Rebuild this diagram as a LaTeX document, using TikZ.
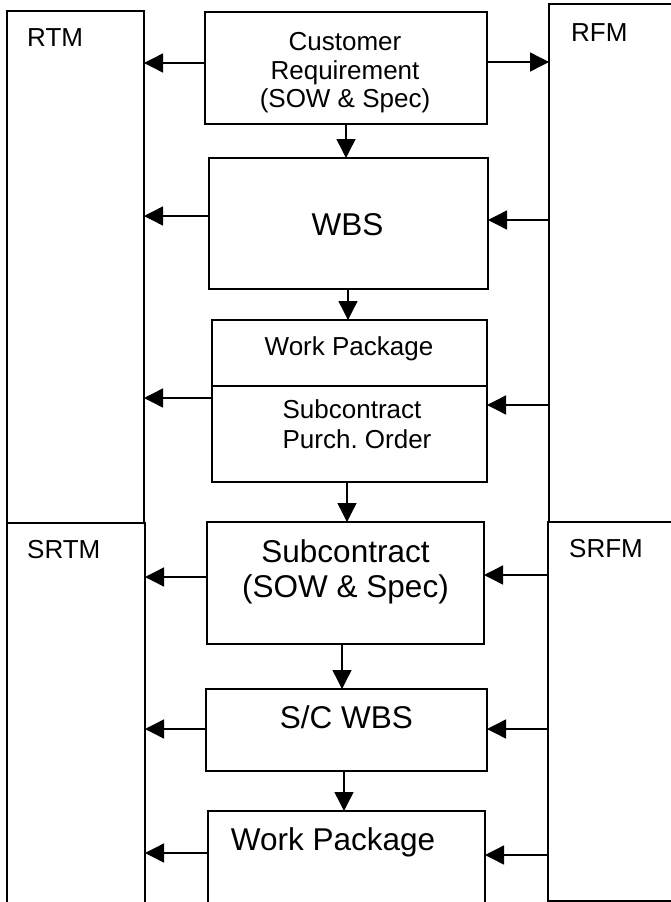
\documentclass[tikz,border=0pt]{standalone}
\usepackage{fontspec}
\setmainfont{Liberation Sans}
\usetikzlibrary{arrows.meta,fit}
\begin{document}
\begin{tikzpicture}[x=1pt,y=-1pt,
  box/.style={draw, line width=1.8pt, inner sep=0pt, outer sep=0pt},
  arr/.style={line width=1.4pt, -{Triangle[length=19pt,width=19pt]}},
  sm/.style={font=\fontsize{26}{30}\selectfont, inner sep=0pt},
  lg/.style={font=\fontsize{31.5}{36}\selectfont, inner sep=0pt}]
\useasboundingbox (0,0) rectangle (671,902);
\clip (0,0) rectangle (671,902);
% side matrices
\node[box, fit={(7,11) (144,523)}] (RTM) {};
\node[box, fit={(7,523) (145,920)}] (SRTM) {};
\node[box, fit={(549,4) (700,522)}] (RFM) {};
\node[box, fit={(548,522) (700,901)}] (SRFM) {};
% central flow
\node[box, fit={(205,12) (487,124)}] (CR) {};
\node[box, fit={(209,158) (488,289)}] (WBS) {};
\node[box, fit={(212,320) (487,482)}] (WP) {};
\draw[line width=1.8pt] (WP.west |- 0,386) -- (WP.east |- 0,386);
\node[box, fit={(207,522) (484,644)}] (SUB) {};
\node[box, fit={(206,689) (487,771)}] (SCWBS) {};
\node[box, fit={(208,811) (485,920)}] (WP2) {};
% labels
\node[sm, anchor=base west] (tRTM) at (27,46) {RTM};
\node[sm, anchor=base west] (tRFM) at (571,41) {RFM};
\node[sm, anchor=base west] (tSRTM) at (27,558) {SRTM};
\node[sm, anchor=base west] (tSRFM) at (569,557) {SRFM};
\node[sm, anchor=base] (tCR1) at (345,50) {Customer};
\node[sm, anchor=base] (tCR2) at (345,79) {Requirement};
\node[sm, anchor=base] (tCR3) at (345,107) {(SOW \& Spec)};
\node[lg, anchor=base] (tWBS) at (347.5,235) {WBS};
\node[sm, anchor=base] (tWP) at (349,355) {Work Package};
\node[sm, anchor=base] (tSC1) at (352,418) {Subcontract};
\node[sm, anchor=base] (tSC2) at (357,448) {Purch.\ Order};
\node[lg, anchor=base] (tSUB1) at (345.5,562) {Subcontract};
\node[lg, anchor=base] (tSUB2) at (345.5,597) {(SOW \& Spec)};
\node[lg, anchor=base] (tSCW) at (346.3,728) {S/C WBS};
\node[lg, anchor=base] (tWP2) at (333,850) {Work Package};
% connectors
\draw[arr] (CR.west |- 0,63) -- (RTM.east |- 0,63);
\draw[arr] (CR.east |- 0,62) -- (RFM.west |- 0,62);
\draw[arr] (CR.south -| 346,0) -- (WBS.north -| 346,0);
\draw[arr] (WBS.west |- 0,216) -- (RTM.east |- 0,216);
\draw[arr] (RFM.west |- 0,220) -- (WBS.east |- 0,220);
\draw[arr] (WBS.south -| 348,0) -- (WP.north -| 348,0);
\draw[arr] (WP.west |- 0,398) -- (RTM.east |- 0,398);
\draw[arr] (RFM.west |- 0,405) -- (WP.east |- 0,405);
\draw[arr] (WP.south -| 347,0) -- (SUB.north -| 347,0);
\draw[arr] (SUB.west |- 0,577) -- (SRTM.east |- 0,577);
\draw[arr] (SRFM.west |- 0,575) -- (SUB.east |- 0,575);
\draw[arr] (SUB.south -| 342,0) -- (SCWBS.north -| 342,0);
\draw[arr] (SCWBS.west |- 0,729) -- (SRTM.east |- 0,729);
\draw[arr] (SRFM.west |- 0,729) -- (SCWBS.east |- 0,729);
\draw[arr] (SCWBS.south -| 344,0) -- (WP2.north -| 344,0);
\draw[arr] (WP2.west |- 0,853) -- (SRTM.east |- 0,853);
\draw[arr] (SRFM.west |- 0,855) -- (WP2.east |- 0,855);
\end{tikzpicture}
\end{document}
